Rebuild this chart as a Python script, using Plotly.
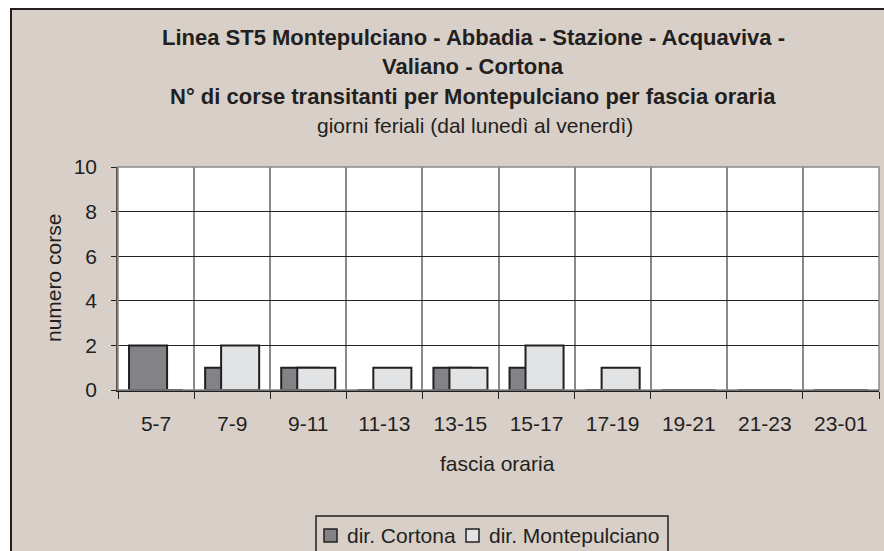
import plotly.graph_objects as go

# Time bands and number of runs per direction
fasce = ["5-7", "7-9", "9-11", "11-13", "13-15", "15-17", "17-19", "19-21", "21-23", "23-01"]
dir_cortona = [2, 1, 1, 0, 1, 1, 0, 0, 0, 0]
dir_montepulciano = [0, 2, 1, 1, 1, 2, 1, 0, 0, 0]
serie_nomi = ["dir. Cortona", "dir. Montepulciano"]

titolo = ["Linea ST5 Montepulciano - Abbadia - Stazione - Acquaviva -",
          "Valiano - Cortona",
          "N° di corse transitanti per Montepulciano per fascia oraria"]
sottotitolo = "giorni feriali (dal lunedì al venerdì)"

W, H = 884, 551
L, R, T, B = 118, 879, 167, 390  # plot area in pixels

BG = "#d8d0c8"
INK = "#231f20"
DARK = "#838387"
LIGHT = "#e2e3e5"
FONT = "Liberation Sans, Arial, sans-serif"


def px(x):
    return (x - L) / (R - L)


def py(y):
    return (B - y) / (B - T)


fig = go.Figure()
fig.add_trace(go.Bar(x=fasce, y=dir_cortona, name=serie_nomi[0],
                     marker=dict(color=DARK, line=dict(color=INK, width=2)),
                     width=0.5, offset=-0.355, showlegend=False))
fig.add_trace(go.Bar(x=fasce, y=dir_montepulciano, name=serie_nomi[1],
                     marker=dict(color=LIGHT, line=dict(color=INK, width=2)),
                     width=0.5, offset=-0.145, showlegend=False))

shapes = [
    # white margin outside the chart frame
    dict(type="rect", xref="paper", yref="paper", x0=px(-20), x1=px(11), y0=py(700), y1=py(-20),
         fillcolor="white", line=dict(width=0), layer="below"),
    dict(type="rect", xref="paper", yref="paper", x0=px(-20), x1=px(1000), y0=py(9), y1=py(-20),
         fillcolor="white", line=dict(width=0), layer="below"),
    # chart frame
    dict(type="rect", xref="paper", yref="paper", x0=px(11), x1=px(1000), y0=py(700), y1=py(9),
         line=dict(color=INK, width=2), fillcolor="rgba(0,0,0,0)", layer="above"),
    # plot area border
    dict(type="rect", xref="paper", yref="paper", x0=0, x1=1, y0=0, y1=1,
         line=dict(color="#8a8a8a", width=1.5), fillcolor="rgba(0,0,0,0)", layer="above"),
    # legend box
    dict(type="rect", xref="paper", yref="paper", x0=px(316), x1=px(668), y0=py(600), y1=py(516),
         line=dict(color=INK, width=1.5), fillcolor="rgba(0,0,0,0)", layer="above"),
    # legend swatches
    dict(type="rect", xref="paper", yref="paper", x0=px(324), x1=px(337), y0=py(542), y1=py(529),
         line=dict(color=INK, width=1.5), fillcolor=DARK, layer="above"),
    dict(type="rect", xref="paper", yref="paper", x0=px(466), x1=px(479), y0=py(542), y1=py(529),
         line=dict(color=INK, width=1.5), fillcolor=LIGHT, layer="above"),
]

annotations = []
title_y = [37, 66, 96]
for txt, yy in zip(titolo, title_y):
    annotations.append(dict(text="<b>" + txt + "</b>", x=px(473), y=py(yy), xref="paper", yref="paper",
                            xanchor="center", yanchor="middle", showarrow=False,
                            font=dict(family=FONT, size=22, color=INK)))
annotations.append(dict(text=sottotitolo, x=px(475), y=py(126), xref="paper", yref="paper",
                        xanchor="center", yanchor="middle", showarrow=False,
                        font=dict(family=FONT, size=21, color=INK)))
annotations.append(dict(text="fascia oraria", x=px(497), y=py(463), xref="paper", yref="paper",
                        xanchor="center", yanchor="middle", showarrow=False,
                        font=dict(family=FONT, size=21, color=INK)))
annotations.append(dict(text="numero corse", x=px(53), y=py(278), xref="paper", yref="paper",
                        xanchor="center", yanchor="middle", showarrow=False, textangle=-90,
                        font=dict(family=FONT, size=21, color=INK)))
annotations.append(dict(text=serie_nomi[0], x=px(345), y=py(535), xref="paper", yref="paper",
                        xanchor="left", yanchor="middle", showarrow=False,
                        font=dict(family=FONT, size=21, color=INK)))
annotations.append(dict(text=serie_nomi[1], x=px(487), y=py(535), xref="paper", yref="paper",
                        xanchor="left", yanchor="middle", showarrow=False,
                        font=dict(family=FONT, size=21, color=INK)))

fig.update_layout(
    width=W, height=H,
    margin=dict(l=L, r=W - R, t=T, b=H - B, pad=0),
    paper_bgcolor=BG, plot_bgcolor="white",
    barmode="overlay",
    showlegend=False,
    shapes=shapes,
    annotations=annotations,
    xaxis=dict(type="category", range=[-0.5, 9.5], tickson="boundaries",
               showgrid=True, gridcolor="#8a8a8a", gridwidth=1.5,
               ticks="outside", ticklen=7, tickcolor=INK, tickwidth=1,
               showline=True, linecolor=INK, linewidth=2,
               tickfont=dict(family=FONT, size=21, color=INK), ticklabelstandoff=14,
               fixedrange=True),
    yaxis=dict(range=[0, 10], dtick=2, tick0=0,
               showgrid=True, gridcolor=INK, gridwidth=1.3, zeroline=False,
               ticks="outside", ticklen=5, tickcolor=INK, tickwidth=1,
               showline=True, linecolor="#555555", linewidth=1.5,
               tickfont=dict(family=FONT, size=21, color=INK), ticklabelstandoff=10,
               fixedrange=True),
)

fig.write_html("out.html")
